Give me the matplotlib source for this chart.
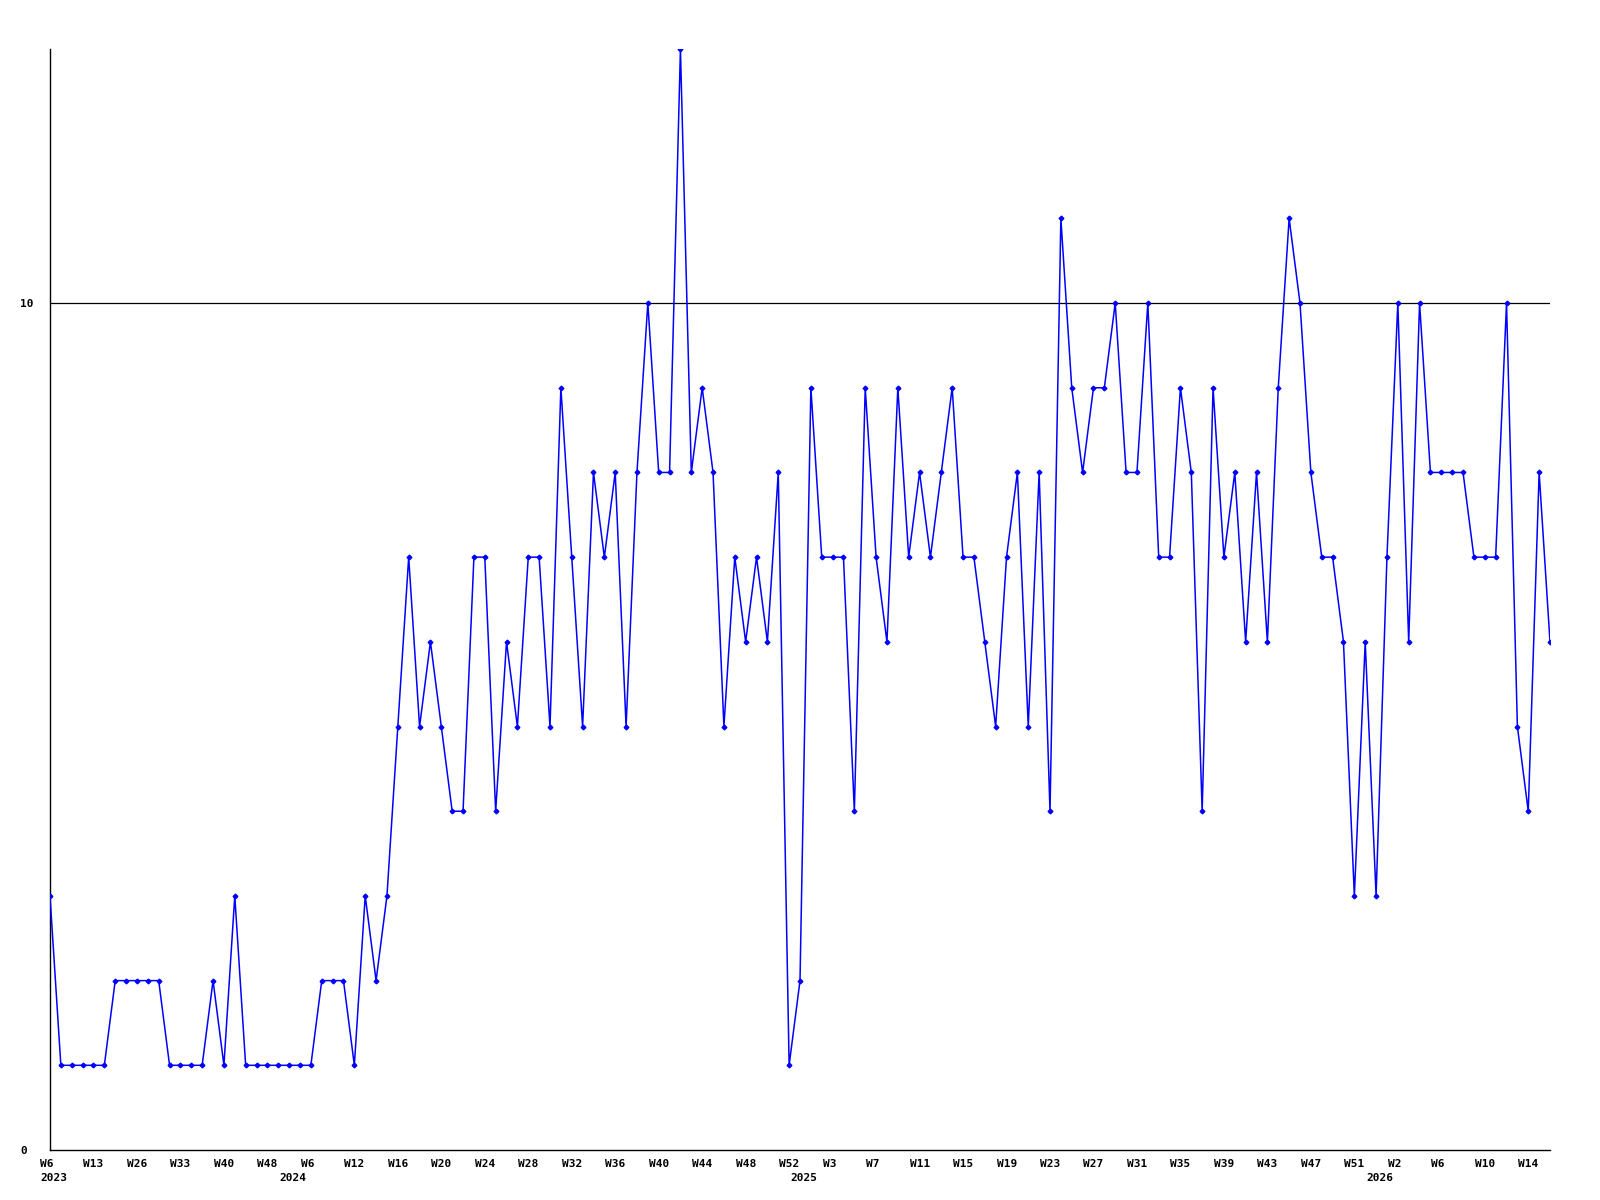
import matplotlib
matplotlib.use('Agg')
import matplotlib.pyplot as plt
import matplotlib.transforms as mtransforms
import numpy as np

# weekly counts
values = [3, 1, 1, 1, 1, 1, 2, 2, 2, 2, 2, 1, 1, 1, 1, 2, 1, 3, 1, 1,
          1, 1, 1, 1, 1, 2, 2, 2, 1, 3, 2, 3, 5, 7, 5, 6, 5, 4, 4, 7,
          7, 4, 6, 5, 7, 7, 5, 9, 7, 5, 8, 7, 8, 5, 8, 10, 8, 8, 13, 8,
          9, 8, 5, 7, 6, 7, 6, 8, 1, 2, 9, 7, 7, 7, 4, 9, 7, 6, 9, 7,
          8, 7, 8, 9, 7, 7, 6, 5, 7, 8, 5, 8, 4, 11, 9, 8, 9, 9, 10, 8,
          8, 10, 7, 7, 9, 8, 4, 9, 7, 8, 6, 8, 6, 9, 11, 10, 8, 7, 7, 6,
          3, 6, 3, 7, 10, 6, 10, 8, 8, 8, 8, 7, 7, 7, 10, 5, 4, 8, 6]

week_ticks = [1, 5, 9, 13, 17, 21, 25, 29, 33, 37, 41, 45, 49, 53, 57, 61, 65, 69,
              73, 77, 81, 85, 89, 93, 97, 101, 105, 109, 113, 117, 121, 125, 129, 133, 137]
week_labels = ['W6', 'W13', 'W26', 'W33', 'W40', 'W48', 'W6', 'W12', 'W16', 'W20',
               'W24', 'W28', 'W32', 'W36', 'W40', 'W44', 'W48', 'W52', 'W3', 'W7',
               'W11', 'W15', 'W19', 'W23', 'W27', 'W31', 'W35', 'W39', 'W43', 'W47',
               'W51', 'W2', 'W6', 'W10', 'W14']
year_pos = [1, 23, 70, 123]
year_labels = ['2023', '2024', '2025', '2026']
y_ticks = [0, 10]

FONT = dict(family='DejaVu Sans Mono', fontsize=8, fontweight='bold')

x = np.arange(1, len(values) + 1)

fig = plt.figure(figsize=(16, 12), dpi=100)
ax = fig.add_axes([50 / 1600, 50 / 1200, 1500 / 1600, 1101 / 1200])

ax.axhline(10, color='black', lw=0.9, zorder=1)
ax.plot(x, values, color='#0000ff', lw=1.1, marker='D', ms=2.4, zorder=3)

ax.set_xlim(1, len(values))
ax.set_ylim(0, 13)
for s in ['top', 'right']:
    ax.spines[s].set_visible(False)
for s in ['left', 'bottom']:
    ax.spines[s].set_color('black')
    ax.spines[s].set_linewidth(1.0)

# x labels drawn as text: left aligned, starting ~10px left of the point
shift = mtransforms.ScaledTranslation(-0.10, 0, fig.dpi_scale_trans)
xtr = ax.get_xaxis_transform() + shift
ax.set_xticks([])
for p, wl in zip(week_ticks, week_labels):
    ax.text(p, -0.008, wl, transform=xtr, ha='left', va='top', **FONT)
for p, yl in zip(year_pos, year_labels):
    ax.text(p, -0.021, yl, transform=xtr, ha='left', va='top', **FONT)

ax.set_yticks(y_ticks)
ax.set_yticklabels([str(v) for v in y_ticks], ha='left', **FONT)
ax.tick_params(axis='y', length=0, pad=21.6)

plt.savefig('out.png', dpi=100)
plt.close()
